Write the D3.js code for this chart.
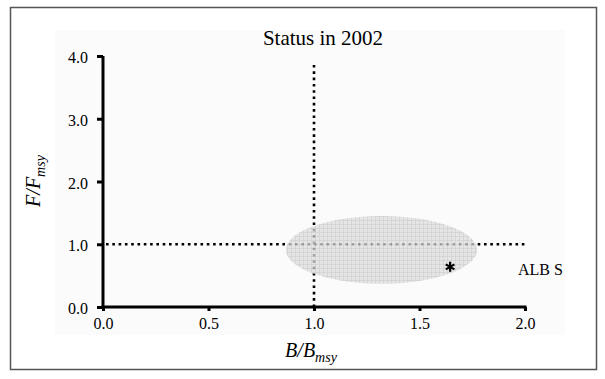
<!DOCTYPE html>
<html>
<head>
<meta charset="utf-8">
<script src="https://cdn.jsdelivr.net/npm/d3@7"></script>
<style>
  body { margin: 0; background: #fff; }
  text { font-family: "Liberation Serif", "Times New Roman", serif; fill: #000; }
</style>
</head>
<body>
<div id="chart"></div>
<script>
// data
var xTicks = [0, 0.5, 1.0, 1.5, 2.0];
var yTicks = [0, 1, 2, 3, 4];
var refX = [1.0];          // B/Bmsy = 1
var refY = [1.0];          // F/Fmsy = 1
var refVertTop = [3.9];
var ellipseCenter = [1.32, 0.91];
var ellipseRadii = [0.453, 0.54];
var pointX = [1.645];
var pointY = [0.64];
var stockLabel = ["ALB S"];

var svgWidth = 605;
var svgHeight = 379;

var margin = { top: 56, right: 80, bottom: 72, left: 103 };
var width = 525 - margin.left;
var height = 307 - margin.top;

var svg = d3.select("#chart").append("svg")
    .attr("width", svgWidth)
    .attr("height", svgHeight);

// outer frame
svg.append("rect")
    .attr("x", 10.5).attr("y", 7.5)
    .attr("width", 586).attr("height", 362)
    .attr("fill", "#fff")
    .attr("stroke", "#555")
    .attr("stroke-width", 1.5);

// faint plot background
svg.append("rect")
    .attr("x", 55).attr("y", 30)
    .attr("width", 510).attr("height", 305)
    .attr("fill", "#fbfbfb");

var defs = svg.append("defs");
var pat = defs.append("pattern")
    .attr("id", "grid")
    .attr("patternUnits", "userSpaceOnUse")
    .attr("width", 4).attr("height", 4);
pat.append("rect").attr("width", 4).attr("height", 4).attr("fill", "#dedede");
pat.append("path")
    .attr("d", "M0,0.5H4M0.5,0V4")
    .attr("stroke", "#c4c4c4")
    .attr("stroke-width", 0.8)
    .attr("fill", "none");

var chartGroup = svg.append("g")
    .attr("transform", `translate(${margin.left}, ${margin.top})`);

var x = d3.scaleLinear().domain([0, 2]).range([0, width]);
var y = d3.scaleLinear().domain([0, 4]).range([height, 0]);

// reference lines
chartGroup.selectAll(".hline")
    .data(refY)
    .enter()
    .append("line")
    .attr("x1", x(0) + 3)
    .attr("x2", x(2))
    .attr("y1", d => y(d))
    .attr("y2", d => y(d))
    .attr("stroke", "#000")
    .attr("stroke-width", 2.6)
    .attr("stroke-dasharray", "2.6,3.7");

chartGroup.selectAll(".vline")
    .data(refX)
    .enter()
    .append("line")
    .attr("x1", d => x(d))
    .attr("x2", d => x(d))
    .attr("y1", y(0))
    .attr("y2", y(refVertTop[0]))
    .attr("stroke", "#000")
    .attr("stroke-width", 2.6)
    .attr("stroke-dasharray", "2.6,3.7");

// uncertainty ellipse
chartGroup.append("ellipse")
    .attr("cx", x(ellipseCenter[0]))
    .attr("cy", y(ellipseCenter[1]))
    .attr("rx", x(ellipseRadii[0]) - x(0))
    .attr("ry", y(0) - y(ellipseRadii[1]))
    .attr("fill", "url(#grid)")
    .attr("opacity", 0.75);

// axes
var xAxis = chartGroup.append("g")
    .attr("transform", `translate(0, ${height})`)
    .call(d3.axisBottom(x).tickValues(xTicks).tickFormat(d3.format(".1f")).tickSize(4).tickPadding(7));

var yAxis = chartGroup.append("g")
    .call(d3.axisLeft(y).tickValues(yTicks).tickFormat(d3.format(".1f")).tickSize(6).tickPadding(9));

[xAxis, yAxis].forEach(function (ax) {
    ax.select(".domain").remove();
    ax.selectAll("line").attr("stroke", "#000").attr("stroke-width", 3);
    ax.selectAll("text")
        .attr("font-family", "Liberation Serif, Times New Roman, serif")
        .attr("font-size", "16px")
        .attr("fill", "#000");
});
yAxis.selectAll("text").attr("dy", "0.42em");

chartGroup.append("line")
    .attr("x1", 0).attr("x2", 0)
    .attr("y1", y(4)).attr("y2", y(0) + 1.5)
    .attr("stroke", "#000").attr("stroke-width", 3);
chartGroup.append("line")
    .attr("x1", -1.5).attr("x2", x(2) + 1.5)
    .attr("y1", y(0)).attr("y2", y(0))
    .attr("stroke", "#000").attr("stroke-width", 3);

// point
var star = d3.symbol().type(d3.symbolAsterisk).size(70);
chartGroup.selectAll(".pt")
    .data(pointX)
    .enter()
    .append("path")
    .attr("transform", (d, i) => `translate(${x(d)}, ${y(pointY[i])})`)
    .attr("d", star)
    .attr("fill", "none")
    .attr("stroke", "#000")
    .attr("stroke-width", 2.2);

chartGroup.append("text")
    .attr("x", x(2) - 7)
    .attr("y", y(0.6))
    .attr("dy", "0.35em")
    .attr("font-size", "16px")
    .text(stockLabel[0]);

// title
svg.append("text")
    .attr("x", 323)
    .attr("y", 45)
    .attr("text-anchor", "middle")
    .attr("font-size", "21px")
    .text("Status in 2002");

// axis labels
var xl = svg.append("text")
    .attr("x", 311)
    .attr("y", 357)
    .attr("text-anchor", "middle")
    .attr("font-size", "20px")
    .attr("font-style", "italic");
xl.append("tspan").text("B/B");
xl.append("tspan").attr("font-size", "14px").attr("dy", 5).text("msy");

var yl = svg.append("text")
    .attr("transform", "translate(40, 181) rotate(-90)")
    .attr("text-anchor", "middle")
    .attr("font-size", "20px")
    .attr("font-style", "italic");
yl.append("tspan").text("F/F");
yl.append("tspan").attr("font-size", "14px").attr("dy", 5).text("msy");
</script>
</body>
</html>
